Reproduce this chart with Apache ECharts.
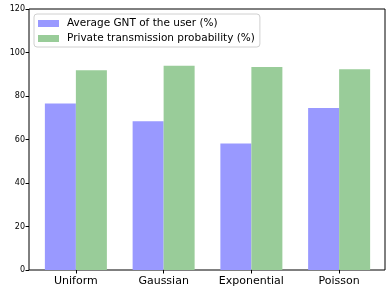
<!DOCTYPE html>
<html><head><meta charset="utf-8">
<script src="https://cdn.jsdelivr.net/npm/echarts@6/dist/echarts.min.js"></script>
<style>html,body{margin:0;padding:0;background:#fff}#c{width:392px;height:293px}</style>
</head><body><div id="c"></div>
<script>
const categories = ['Uniform', 'Gaussian', 'Exponential', 'Poisson'];
const gntValues = [76.6, 68.4, 58.2, 74.5];
const privValues = [91.8, 93.9, 93.3, 92.3];
const seriesNames = ['Average GNT of the user (%)', 'Private transmission probability (%)'];
const yTicks = [0, 20, 40, 60, 80, 100, 120];

const font = 'DejaVu Sans';
const chart = echarts.init(document.getElementById('c'), null, {renderer: 'canvas'});
chart.setOption({
  animation: false,
  backgroundColor: '#fff',
  textStyle: {fontFamily: font},
  grid: [
    {left: 29, right: 7, top: 9, bottom: 23, show: true, borderColor: '#000', borderWidth: 1, backgroundColor: 'transparent'},
    {left: 32, right: 9, top: 9, bottom: 23}
  ],
  xAxis: [
    {gridIndex: 0, type: 'category', data: categories, axisLine: {show: false}, axisTick: {show: false}, axisLabel: {show: false}},
    {gridIndex: 1, type: 'category', data: categories, axisLine: {show: false},
     axisTick: {show: true, alignWithLabel: true, length: 3.5, lineStyle: {color: '#000'}},
     axisLabel: {color: '#000', fontSize: 11, fontFamily: font, margin: 6}}
  ],
  yAxis: [
    {gridIndex: 0, type: 'value', min: yTicks[0], max: yTicks[yTicks.length - 1], interval: 20,
     axisLine: {show: false}, axisTick: {show: true, length: 3.5, lineStyle: {color: '#000'}},
     splitLine: {show: false}, axisLabel: {color: '#000', fontSize: 8, fontFamily: font, margin: 4}},
    {gridIndex: 1, type: 'value', min: yTicks[0], max: yTicks[yTicks.length - 1], interval: 20, show: false, splitLine: {show: false}}
  ],
  legend: {
    orient: 'vertical', left: 34, top: 14,
    itemWidth: 21, itemHeight: 7, itemGap: 4,
    padding: [4, 5, 3, 4],
    borderColor: '#d0d0d0', borderWidth: 1, borderRadius: 3,
    backgroundColor: 'rgba(255,255,255,0.8)',
    textStyle: {fontSize: 10.5, color: '#000', fontFamily: font, padding: [0, 0, 0, 3]},
    icon: 'rect',
    data: seriesNames
  },
  series: [
    {name: seriesNames[0], type: 'bar', xAxisIndex: 1, yAxisIndex: 1, data: gntValues, barWidth: 31, barGap: '0%',
     itemStyle: {color: '#9999ff'}},
    {name: seriesNames[1], type: 'bar', xAxisIndex: 1, yAxisIndex: 1, data: privValues, barWidth: 31, barGap: '0%',
     itemStyle: {color: '#99cc99'}}
  ]
});
</script></body></html>
